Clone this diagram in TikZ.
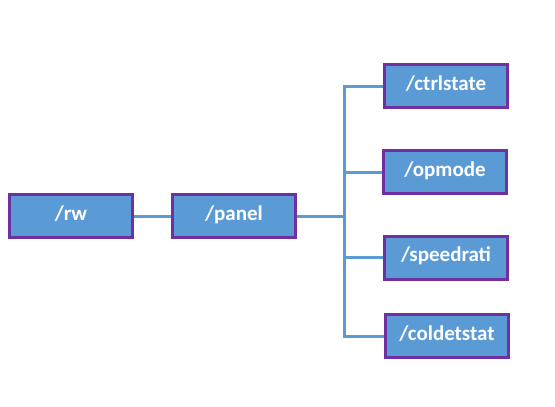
\documentclass[tikz,border=0pt]{standalone}
\usepackage{fontspec}
\setmainfont{Carlito}
\usetikzlibrary{positioning}

\definecolor{boxblue}{HTML}{5B9BD5}
\definecolor{boxpurple}{HTML}{7030A0}

\begin{document}
\begin{tikzpicture}[
  x=1pt, y=-1pt,
  every node/.style={font=\fontsize{21}{25}\selectfont\bfseries},
  topic/.style={draw=boxpurple, line width=3pt, fill=boxblue, text=white,
    minimum width=123pt, minimum height=43pt, inner sep=0pt,
    text depth=5pt, text height=13pt},
  link/.style={draw=boxblue, line width=3pt},
]
\useasboundingbox (0,0) rectangle (555,407);

% Left part of the tree
\node[topic] (rw)    at (71,216)  {/rw};
\node[topic] (panel) at (234,216) {/panel};
\coordinate (trunk) at (344,216);

% Leaf topics
\node[topic] (ctrlstate)  at (446,86)    {/ctrlstate};
\node[topic] (opmode)     at (445,172)   {/opmode};
\node[topic] (speedrati)  at (446,257.5) {/speedrati};
\node[topic] (coldetstat) at (447,336)   {/coldetstat};

% Connectors
\draw[link] (rw.east) -- (panel.west);
\draw[link] (panel.east) -- (trunk);
\foreach \leaf in {ctrlstate,opmode,speedrati,coldetstat} {
  \draw[link] (trunk) |- (\leaf.west);
}
\end{tikzpicture}
\end{document}
